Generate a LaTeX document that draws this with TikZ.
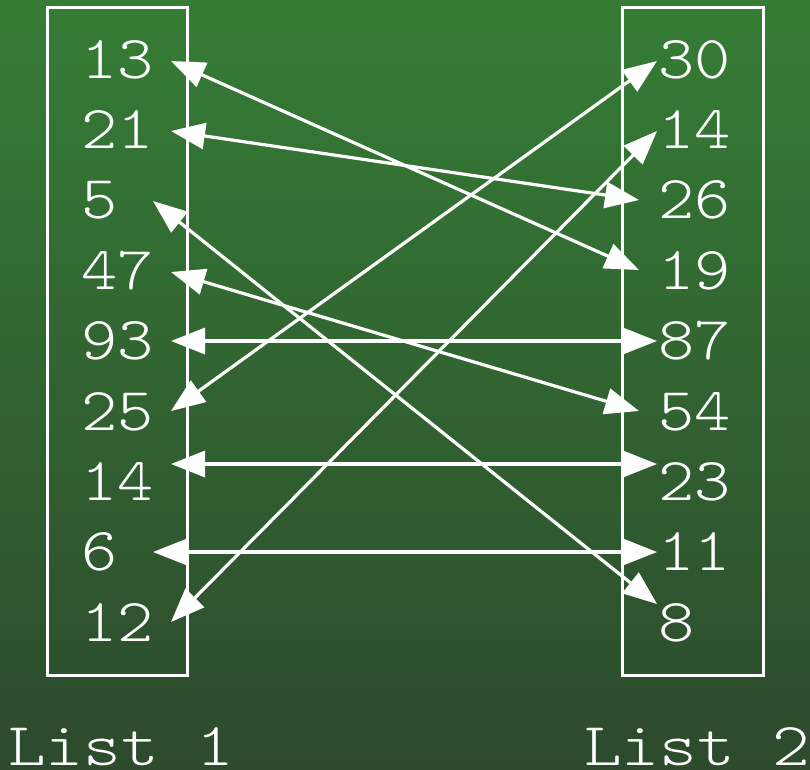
\documentclass[tikz,border=0pt]{standalone}
\usepackage{fontspec}
\newfontfamily\lighttt{lmmonolt10-regular.otf}
\usetikzlibrary{arrows.meta}
\definecolor{bgtop}{RGB}{53,125,53}
\definecolor{bgbot}{RGB}{45,74,45}
\newcommand\stt[1]{\scalebox{1.13}[1]{#1}}
\newcommand\ltt[1]{\scalebox{1.175}[1]{#1}}
\begin{document}
\begin{tikzpicture}[x=1pt,y=-1pt,
  box/.style={draw=white,line width=3pt},
  num/.style={text=white,font=\fontsize{61}{61}\selectfont\lighttt,inner sep=0pt,anchor=base west},
  link/.style={draw=white,line width=3.2pt,{Triangle[length=34pt,width=26pt]}-{Triangle[length=34pt,width=26pt]}}]
\useasboundingbox (0,0) rectangle (810,769);
\shade[top color=bgtop,bottom color=bgbot] (0,0) rectangle (810,769);
\draw[box] (47,7) rectangle (187,675);
\draw[box] (622,7) rectangle (763,675);
% left list
\node[num] (l13) at (81.5,78) {\stt{13}};
\node[num] (l21) at (81.5,148.4) {\stt{21}};
\node[num] (l5)  at (81.5,218.8) {\stt{5}};
\node[num] (l47) at (81.5,289.2) {\stt{47}};
\node[num] (l93) at (81.5,359.6) {\stt{93}};
\node[num] (l25) at (81.5,430) {\stt{25}};
\node[num] (l14) at (81.5,500.4) {\stt{14}};
\node[num] (l6)  at (81.5,570.8) {\stt{6}};
\node[num] (l12) at (81.5,641.2) {\stt{12}};
% right list
\node[num] (r30) at (658.5,78) {\stt{30}};
\node[num] (r14) at (658.5,148.4) {\stt{14}};
\node[num] (r26) at (658.5,218.8) {\stt{26}};
\node[num] (r19) at (658.5,289.2) {\stt{19}};
\node[num] (r87) at (658.5,359.6) {\stt{87}};
\node[num] (r54) at (658.5,430) {\stt{54}};
\node[num] (r23) at (658.5,500.4) {\stt{23}};
\node[num] (r11) at (658.5,570.8) {\stt{11}};
\node[num] (r8)  at (658.5,641.2) {\stt{8}};
% labels
\node[num] (list1) at (8,765) {\ltt{List 1}};
\node[num] (list2) at (584,765) {\ltt{List 2}};
% arrow ends
\coordinate (a13) at (171,61);
\coordinate (a21) at (171,131);
\coordinate (a5)  at (153,201);
\coordinate (a47) at (171,272);
\coordinate (a93) at (171,341);
\coordinate (a25) at (171,411);
\coordinate (a14) at (171,464);
\coordinate (a6)  at (153,552);
\coordinate (a12) at (171,622);
\coordinate (b30) at (657,61);
\coordinate (b14) at (657,131);
\coordinate (b26) at (639,200);
\coordinate (b19) at (639,270);
\coordinate (b87) at (657,341);
\coordinate (b54) at (639,411);
\coordinate (b23) at (657,464);
\coordinate (b11) at (657,552);
\coordinate (b8)  at (657,604);
\draw[link] (a13) -- (b19);
\draw[link] (a21) -- (b26);
\draw[link] (a5) -- (b8);
\draw[link] (a47) -- (b54);
\draw[link] (a93) -- (b87);
\draw[link] (a25) -- (b30);
\draw[link] (a14) -- (b23);
\draw[link] (a6) -- (b11);
\draw[link] (a12) -- (b14);
\end{tikzpicture}
\end{document}
